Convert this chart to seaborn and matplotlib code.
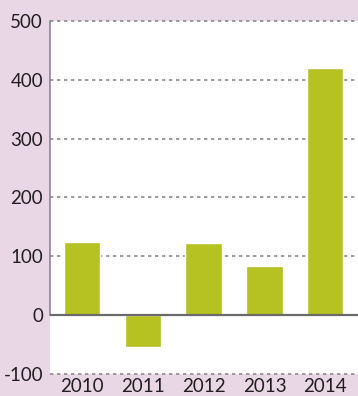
import matplotlib
matplotlib.use("Agg")
import matplotlib.pyplot as plt
import seaborn as sns
import pandas as pd

years = ["2010", "2011", "2012", "2013", "2014"]
values = [124, -54, 122, 83, 420]
yticks = [-100, 0, 100, 200, 300, 400, 500]

bg = "#E9D7E5"
bar_color = "#B5C222"

sns.set_theme(style="white")
plt.rcParams["font.family"] = ["Lato", "DejaVu Sans"]

df = pd.DataFrame({"year": years, "value": values})

fig = plt.figure(figsize=(3.58, 3.96), dpi=100, facecolor=bg)
ax = fig.add_axes([50 / 358, 1 - 374 / 396, 1 - 50 / 358, (374 - 21) / 396])
ax.set_facecolor("white")

sns.barplot(data=df, x="year", y="value", order=years, color=bar_color,
            width=0.6, saturation=1, ax=ax, zorder=2)

ax.set_xlim(-0.53, 4.54)
ax.set_ylim(-100, 500)
ax.set_yticks(yticks)
ax.set_yticklabels([str(t) for t in yticks])

# dotted gridlines at every tick except zero
for t in yticks:
    if t != 0:
        ax.axhline(t, color="#8a8a8a", lw=1.2, ls=(0, (2, 2.2)), zorder=1, clip_on=False)
ax.axhline(0, color="#6a6a6a", lw=1.6, zorder=3)

for s in ["top", "right", "bottom"]:
    ax.spines[s].set_visible(False)
ax.spines["left"].set_bounds(0, 500)
ax.spines["left"].set_color("#8a8a8a")
ax.spines["left"].set_linewidth(1.2)

ax.set_xlabel("")
ax.set_ylabel("")
ax.tick_params(axis="both", length=0, labelsize=13.5, colors="#231F20")
ax.tick_params(axis="y", pad=5)
ax.tick_params(axis="x", pad=3)

fig.savefig("out.png", dpi=100, facecolor=bg)
